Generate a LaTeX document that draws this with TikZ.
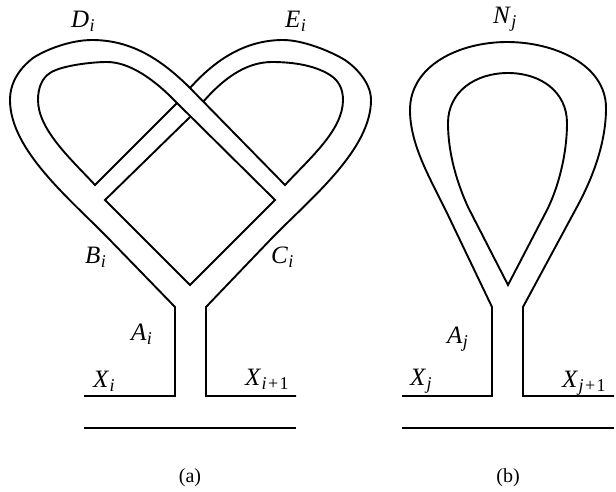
\documentclass[tikz,border=0pt]{standalone}
\usepackage{fontspec}
\setmainfont{Liberation Serif}
\newcommand{\lab}[2]{\textit{#1}\kern0.3pt\raisebox{-4pt}{\fontsize{18}{20}\selectfont #2}}
\tikzset{
  strand/.style={draw=black,line width=1.9pt,line join=miter,line cap=butt,miter limit=10},
  lbl/.style={inner sep=0pt,anchor=base west,font=\fontsize{25}{27}\selectfont},
  captext/.style={inner sep=0pt,anchor=base,font=\fontsize{20}{22}\selectfont}
}
\begin{document}
\begin{tikzpicture}[x=1pt,y=-1pt]
\useasboundingbox (0,0) rectangle (616,491);
% (a) outer left strand, crossing over, into inner loop of E
\draw[strand] (84,396) -- (175,396) -- (175,307) -- (108,238)
  .. controls (70,199) and (10,150) .. (10,100)
  .. controls (10,82) and (20,68) .. (33,58)
  .. controls (45,50) and (70,40) .. (92,40)
  .. controls (130,40) and (160,58) .. (190,88)
  -- (285,185)
  .. controls (310,158) and (343,130) .. (343,100)
  .. controls (343,88) and (338,80) .. (330,75)
  .. controls (316,66) and (295,62) .. (272,62)
  .. controls (245,62) and (222,80) .. (203,102);
% (a) inner left loop and diamond
\draw[strand] (190,117) -- (105,200) -- (190,285) -- (275,200) -- (177,103)
  .. controls (155,80) and (130,62) .. (107,62)
  .. controls (90,62) and (60,66) .. (50,73)
  .. controls (42,78) and (38,88) .. (38,100)
  .. controls (38,130) and (72,160) .. (95,185)
  -- (177,103);
% (a) outer right strand
\draw[strand] (296,396) -- (206,396) -- (206,307) -- (272,238)
  .. controls (310,199) and (371,150) .. (371,100)
  .. controls (371,84) and (358,69) .. (345,60)
  .. controls (330,51) and (303,40) .. (283,40)
  .. controls (245,40) and (215,60) .. (190,88);
\draw[strand] (84,428) -- (296,428);
% (b)
\draw[strand] (402,396) -- (492,396) -- (492,307)
  -- (447,213)
  .. controls (430,178) and (410,145) .. (410,110)
  .. controls (410,65) and (460,42) .. (507,42)
  .. controls (555,42) and (606,65) .. (606,108)
  .. controls (606,140) and (595,173) .. (578,205)
  -- (523,307) -- (523,396) -- (614,396);
\draw[strand] (402,428) -- (614,428);
\draw[strand] (508,285) -- (468,207)
  .. controls (458,185) and (448,155) .. (448,123)
  .. controls (448,92) and (475,73) .. (508,73)
  .. controls (541,73) and (567,92) .. (567,123)
  .. controls (567,155) and (558,188) .. (547,210)
  -- cycle;
% labels
\node[lbl] (d) at (71,27) {\lab{D}{\textit{i}}};
\node[lbl] (e) at (285,27) {\lab{E}{\textit{i}}};
\node[lbl] (n) at (493,23) {\lab{N}{\textit{j}}};
\node[lbl] (b) at (85,263) {\lab{B}{\textit{i}}};
\node[lbl] (c) at (271,263) {\lab{C}{\textit{i}}};
\node[lbl] (ai) at (131,340) {\lab{A}{\textit{i}}};
\node[lbl] (xi) at (93,387) {\lab{X}{\textit{i}}};
\node[lbl] (xii) at (245,385) {\lab{X}{\textit{i}\kern1.5pt+\kern1.5pt1}};
\node[lbl] (aj) at (447,343) {\lab{A}{\textit{j}}};
\node[lbl] (xj) at (410,385) {\lab{X}{\textit{j}}};
\node[lbl] (xjj) at (562,387) {\lab{X}{\textit{j}\kern1.5pt+\kern1.5pt1}};
\node[captext] (ca) at (190,482) {(a)};
\node[captext] (cb) at (508,482) {(b)};
\end{tikzpicture}
\end{document}
